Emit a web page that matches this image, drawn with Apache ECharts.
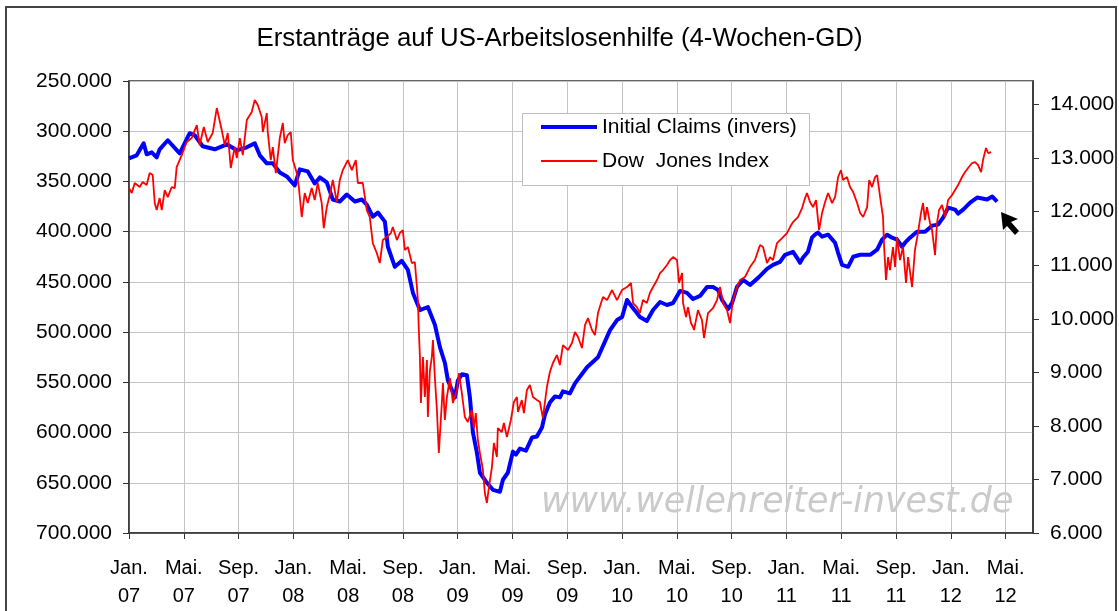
<!DOCTYPE html>
<html>
<head>
<meta charset="utf-8">
<title>Erstanträge auf US-Arbeitslosenhilfe</title>
<script src="https://cdn.jsdelivr.net/npm/echarts@6/dist/echarts.min.js"></script>
<style>
  html, body { margin: 0; padding: 0; background: #fff; }
  #chart { width: 1119px; height: 611px; }
</style>
</head>
<body>
<div id="chart"></div>
<script>
// x = Monate seit Jan. 2007
const tickMonths = [0, 4, 8, 12, 16, 20, 24, 28, 32, 36, 40, 44, 48, 52, 56, 60, 64];
const tickLabels = ['Jan.\n07', 'Mai.\n07', 'Sep.\n07', 'Jan.\n08', 'Mai.\n08', 'Sep.\n08',
  'Jan.\n09', 'Mai.\n09', 'Sep.\n09', 'Jan.\n10', 'Mai.\n10', 'Sep.\n10',
  'Jan.\n11', 'Mai.\n11', 'Sep.\n11', 'Jan.\n12', 'Mai.\n12'];
const dowTicks = [6000, 7000, 8000, 9000, 10000, 11000, 12000, 13000, 14000];

// Initial Claims, 4-Wochen-Durchschnitt (linke Achse, invers)
const claims = [
  [0.0, 327000], [0.56, 324000], [1.07, 312000], [1.29, 323000], [1.66, 321000], [2.02, 326000],
  [2.24, 318000], [2.83, 309000], [3.70, 322000], [4.43, 302000], [4.80, 304000], [5.38, 315000],
  [6.26, 318000], [7.14, 313000], [7.87, 319000], [8.60, 316000], [9.18, 312000], [9.55, 324000],
  [10.06, 332000], [10.50, 332000], [11.01, 341000], [11.52, 345000], [12.10, 354000], [12.47, 338000],
  [13.05, 340000], [13.56, 352000], [13.93, 346000], [14.44, 351000], [14.88, 368000], [15.39, 370000],
  [15.90, 363000], [16.49, 370000], [17.00, 368000], [17.36, 373000], [17.80, 385000], [18.17, 381000],
  [18.68, 390000], [18.90, 415000], [19.41, 435000], [19.92, 429000], [20.36, 438000], [20.73, 461000],
  [21.24, 478000], [21.82, 475000], [22.34, 493000], [22.70, 515000], [23.07, 531000], [23.28, 548000],
  [23.80, 565000], [24.01, 548000], [24.31, 542000], [24.67, 543000], [24.89, 565000], [25.11, 600000],
  [25.40, 620000], [25.62, 640000], [26.13, 650000], [26.57, 657000], [27.08, 659000], [27.30, 647000],
  [27.66, 640000], [28.03, 619000], [28.25, 622000], [28.54, 616000], [28.98, 618000], [29.42, 605000],
  [29.78, 604000], [30.15, 595000], [30.37, 582000], [30.73, 570000], [31.10, 564000], [31.46, 565000],
  [31.68, 559000], [32.19, 561000], [32.56, 551000], [33.44, 535000], [34.24, 525000], [35.12, 498000],
  [35.63, 488000], [36.00, 485000], [36.36, 468000], [36.73, 475000], [37.08, 481000], [37.30, 485000],
  [37.81, 489000], [38.26, 478000], [38.77, 470000], [39.28, 473000], [39.72, 471000], [40.23, 459000],
  [40.74, 461000], [41.18, 467000], [41.69, 464000], [42.20, 455000], [42.64, 455000], [43.01, 458000],
  [43.30, 468000], [43.73, 477000], [44.03, 471000], [44.39, 455000], [44.83, 448000], [45.34, 453000],
  [45.93, 446000], [46.58, 437000], [47.02, 433000], [47.53, 430000], [47.90, 423000], [48.48, 420000],
  [48.77, 426000], [48.99, 431000], [49.20, 426000], [49.57, 420000], [49.86, 406000], [50.08, 403000],
  [50.30, 401000], [50.60, 405000], [51.04, 403000], [51.55, 411000], [51.77, 421000], [52.06, 433000],
  [52.50, 435000], [52.87, 425000], [53.38, 423000], [54.11, 423000], [54.62, 418000], [54.98, 408000],
  [55.35, 403000], [55.71, 406000], [56.08, 408000], [56.44, 415000], [56.66, 411000], [57.02, 406000],
  [57.53, 400000], [58.12, 400000], [58.63, 394000], [59.07, 393000], [59.44, 386000], [59.80, 376000],
  [60.31, 378000], [60.53, 382000], [60.90, 378000], [61.41, 371000], [61.92, 366000], [62.29, 367000],
  [62.65, 368000], [63.02, 365000], [63.38, 370000]
];

// Dow Jones Index (rechte Achse)
const dow = [
  [0.0, 12441], [0.20, 12348], [0.42, 12535], [0.78, 12460], [1.00, 12553], [1.29, 12497],
  [1.51, 12721], [1.73, 12684], [1.88, 12161], [2.02, 12030], [2.24, 12254], [2.39, 12030],
  [2.61, 12404], [2.83, 12273], [3.12, 12460], [3.34, 12441], [3.48, 12833], [3.85, 13057],
  [4.21, 13300], [4.58, 13375], [4.95, 13617], [5.16, 13244], [5.46, 13580], [5.75, 13300],
  [6.11, 13468], [6.41, 13935], [6.55, 13953], [6.77, 13524], [6.99, 13244], [7.21, 13468],
  [7.43, 12815], [7.72, 13207], [7.87, 13001], [8.09, 13375], [8.31, 13057], [8.60, 13711],
  [8.96, 13860], [9.18, 14084], [9.40, 13991], [9.69, 13767], [9.77, 13487], [10.06, 13841],
  [10.13, 13487], [10.35, 12964], [10.50, 13207], [10.72, 12721], [11.01, 13375], [11.23, 13655],
  [11.37, 13281], [11.59, 13431], [11.81, 13487], [11.96, 12964], [12.25, 12721], [12.40, 12460],
  [12.61, 11900], [12.83, 12348], [13.05, 12161], [13.34, 12441], [13.56, 12217], [13.78, 12535],
  [14.07, 12161], [14.22, 11694], [14.44, 12086], [14.66, 12310], [14.88, 12591], [15.17, 12180],
  [15.39, 12591], [15.61, 12777], [15.97, 12964], [16.27, 12777], [16.56, 12964], [16.71, 12535],
  [17.07, 12535], [17.36, 12030], [17.58, 11900], [17.80, 11414], [18.09, 11228], [18.31, 11041],
  [18.53, 11470], [18.82, 11526], [19.12, 11601], [19.26, 11713], [19.56, 11470], [19.77, 11601],
  [19.99, 11657], [20.14, 11284], [20.36, 11340], [20.65, 11041], [20.87, 11060], [21.02, 10593],
  [21.09, 10350], [21.16, 9790], [21.24, 9286], [21.31, 8427], [21.46, 9286], [21.60, 8539],
  [21.75, 9230], [21.82, 8166], [21.97, 9043], [22.11, 9286], [22.19, 9603], [22.33, 8913],
  [22.48, 8296], [22.62, 7494], [22.84, 8427], [22.92, 8801], [23.06, 8110], [23.21, 8539],
  [23.43, 8894], [23.65, 8427], [23.94, 8670], [24.09, 8987], [24.30, 8614], [24.52, 8166],
  [24.74, 8072], [25.03, 8296], [25.18, 7960], [25.32, 8240], [25.47, 7736], [25.62, 7494],
  [25.84, 7176], [25.98, 6747], [26.13, 6560], [26.28, 6859], [26.49, 7214], [26.64, 7680],
  [26.86, 7419], [26.93, 7960], [27.22, 7886], [27.37, 8054], [27.59, 7792], [27.88, 8110],
  [28.10, 8446], [28.32, 8539], [28.40, 8259], [28.68, 8483], [28.83, 8240], [29.05, 8670],
  [29.27, 8763], [29.49, 8539], [29.78, 8483], [30.00, 8446], [30.22, 8147], [30.51, 8726],
  [30.73, 9006], [30.95, 9174], [31.24, 9323], [31.46, 9137], [31.68, 9510], [32.05, 9417],
  [32.34, 9547], [32.56, 9753], [32.78, 9659], [33.07, 9454], [33.29, 9883], [33.51, 10014],
  [33.80, 9790], [34.02, 9697], [34.24, 10107], [34.53, 10350], [34.61, 10406], [34.90, 10350],
  [35.26, 10537], [35.63, 10350], [35.99, 10537], [36.36, 10593], [36.65, 10668], [36.80, 10294],
  [37.08, 10219], [37.30, 10107], [37.52, 10350], [37.81, 10294], [38.03, 10481], [38.26, 10593],
  [38.55, 10724], [38.77, 10854], [38.99, 10910], [39.28, 11004], [39.50, 11097], [39.72, 11153],
  [40.01, 11097], [40.16, 10668], [40.38, 10854], [40.45, 10294], [40.67, 10033], [40.81, 10219],
  [41.03, 9921], [41.18, 9846], [41.25, 9790], [41.54, 10163], [41.83, 9977], [41.98, 9641],
  [42.27, 10107], [42.64, 10201], [42.93, 10350], [43.15, 10593], [43.37, 10294], [43.66, 10163],
  [43.88, 9921], [44.10, 10350], [44.39, 10593], [44.61, 10724], [44.97, 10780], [45.34, 10966],
  [45.70, 11097], [46.07, 11377], [46.29, 11340], [46.58, 11041], [46.80, 11153], [47.02, 11097],
  [47.31, 11414], [47.68, 11508], [48.04, 11601], [48.26, 11713], [48.48, 11806], [48.84, 11900],
  [49.14, 12068], [49.36, 12254], [49.50, 12348], [49.72, 12180], [49.94, 12086], [50.16, 12217],
  [50.38, 11657], [50.60, 11974], [50.82, 12180], [51.04, 12348], [51.33, 12161], [51.55, 12273],
  [51.77, 12647], [51.98, 12777], [52.13, 12591], [52.42, 12647], [52.64, 12460], [52.87, 12366],
  [53.16, 12161], [53.38, 11974], [53.60, 11900], [53.89, 12086], [54.04, 12591], [54.25, 12460],
  [54.47, 12647], [54.62, 12684], [54.84, 12273], [55.05, 11900], [55.13, 11340], [55.27, 10724],
  [55.42, 11153], [55.56, 10910], [55.78, 11340], [55.93, 10966], [56.07, 11526], [56.29, 11097],
  [56.51, 11340], [56.73, 10668], [56.88, 11153], [57.17, 10593], [57.38, 11284], [57.60, 11601],
  [57.82, 11974], [57.97, 12161], [58.11, 11844], [58.26, 12086], [58.48, 11788], [58.63, 11657],
  [58.85, 11190], [58.99, 11788], [59.14, 12030], [59.36, 12124], [59.58, 11900], [59.80, 12217],
  [60.09, 12310], [60.31, 12404], [60.53, 12497], [60.82, 12647], [61.04, 12740], [61.26, 12815],
  [61.55, 12908], [61.77, 12927], [61.99, 12871], [62.21, 12740], [62.35, 12964], [62.57, 13188],
  [62.72, 13095], [62.94, 13113]
];

const FONT = '"Liberation Sans", Arial, sans-serif';

function dotThousands(v) {
  return String(Math.round(v)).replace(/\B(?=(\d{3})+(?!\d))/g, '.');
}

const chart = echarts.init(document.getElementById('chart'));

const option = {
  animation: false,
  backgroundColor: '#fff',
  title: {
    text: 'Erstanträge auf US-Arbeitslosenhilfe (4-Wochen-GD)',
    left: 'center',
    top: 26,
    padding: 0,
    textStyle: { fontFamily: FONT, fontSize: 25.8, fontWeight: 'normal', color: '#000' }
  },
  legend: {
    orient: 'vertical',
    left: 539,
    top: 115,
    padding: 0,
    itemWidth: 56,
    itemHeight: 14,
    itemGap: 10,
    z: 10,
    itemStyle: { opacity: 0 },
    textStyle: { fontFamily: FONT, fontSize: 21, lineHeight: 24, color: '#000' },
    data: [
      { name: 'Initial Claims (invers)', lineStyle: { width: 4 } },
      { name: 'Dow  Jones Index', lineStyle: { width: 1.8 } }
    ]
  },
  grid: {
    left: 129, right: 86, top: 81, bottom: 78,
    show: true,
    borderColor: '#333',
    borderWidth: 1.5,
    backgroundColor: 'transparent'
  },
  xAxis: {
    type: 'value',
    min: 0,
    max: 66,
    interval: 4,
    axisLine: { lineStyle: { color: '#333', width: 1.5 } },
    axisTick: { show: true, length: 6, inside: false, lineStyle: { color: '#333' }, customValues: tickMonths },
    splitLine: { show: true, lineStyle: { color: '#c4c4c4', width: 1 } },
    axisLabel: {
      customValues: tickMonths,
      margin: 21,
      fontFamily: FONT,
      fontSize: 20,
      lineHeight: 28,
      color: '#000',
      formatter: function (v) {
        const i = tickMonths.indexOf(Math.round(v));
        return i >= 0 ? tickLabels[i] : '';
      }
    }
  },
  yAxis: [
    {
      type: 'value',
      inverse: true,
      min: 250000,
      max: 700000,
      interval: 50000,
      position: 'left',
      axisLine: { show: true, lineStyle: { color: '#333', width: 1.5 } },
      axisTick: { show: true, length: 6, lineStyle: { color: '#333' } },
      splitLine: { show: true, lineStyle: { color: '#c4c4c4', width: 1 } },
      axisLabel: {
        margin: 17,
        fontFamily: FONT,
        fontSize: 21,
        color: '#000',
        formatter: dotThousands
      }
    },
    {
      type: 'value',
      min: 6000,
      max: 14440,
      position: 'right',
      axisLine: { show: true, lineStyle: { color: '#333', width: 1.5 } },
      axisTick: { show: true, length: 6, lineStyle: { color: '#333' }, customValues: dowTicks },
      splitLine: { show: false },
      axisLabel: {
        customValues: dowTicks,
        margin: 17,
        fontFamily: FONT,
        fontSize: 21,
        color: '#000',
        formatter: dotThousands
      }
    }
  ],
  graphic: [
    {
      type: 'rect',
      shape: { x: 6, y: 7, width: 1110, height: 700 },
      style: { fill: 'none', stroke: '#444', lineWidth: 2 },
      silent: true,
      z: 0
    },
    {
      type: 'text',
      x: 541,
      y: 503,
      z: 1,
      silent: true,
      style: {
        text: 'www.wellenreiter-invest.de',
        fill: '#cacaca',
        font: 'italic 34.8px "DejaVu Sans", sans-serif',
        textVerticalAlign: 'middle'
      }
    },
    {
      type: 'rect',
      shape: { x: 522.5, y: 113.5, width: 287, height: 72 },
      style: { fill: '#fff', stroke: '#bdbdbd', lineWidth: 1 },
      silent: true,
      z: 9
    },
    {
      type: 'polygon',
      silent: true,
      z: 9,
      shape: {
        points: [[1001, 212], [1018, 219], [1011, 222], [1019, 231], [1015, 235], [1007, 226], [1003, 230]]
      },
      style: { fill: '#000' }
    }
  ],
  series: [
    {
      name: 'Initial Claims (invers)',
      type: 'line',
      yAxisIndex: 0,
      data: claims,
      symbol: 'none',
      showSymbol: false,
      lineStyle: { color: '#0000ff', width: 4, join: 'round' },
      itemStyle: { color: '#0000ff' },
      z: 3
    },
    {
      name: 'Dow  Jones Index',
      type: 'line',
      yAxisIndex: 1,
      data: dow,
      symbol: 'none',
      showSymbol: false,
      lineStyle: { color: '#ff0000', width: 1.8 },
      itemStyle: { color: '#ff0000' },
      z: 4
    }
  ]
};

chart.setOption(option);
</script>
</body>
</html>
